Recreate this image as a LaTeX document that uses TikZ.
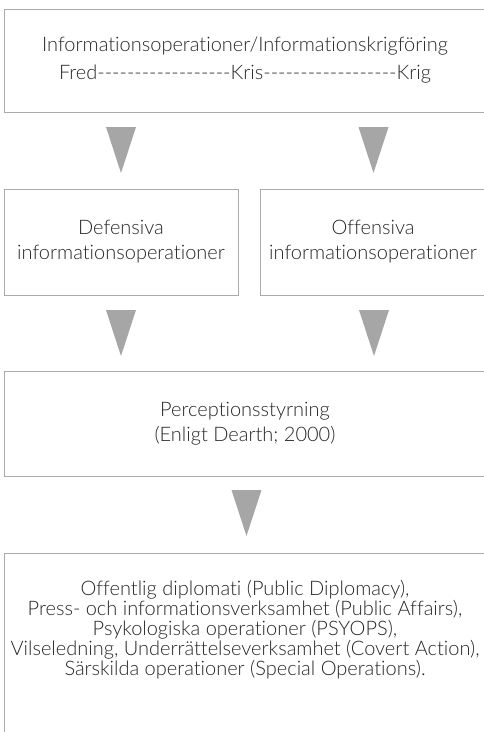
\documentclass[tikz,border=0pt]{standalone}
\usepackage{fontspec}
\IfFontExistsTF{Lato Light}{\setmainfont{Lato Light}[Ligatures={NoCommon}]}{\setmainfont{Lato}[Ligatures={NoCommon}]}
\definecolor{boxgray}{HTML}{ABABAB}
\definecolor{trigray}{HTML}{A6A6A6}
\definecolor{txtgray}{HTML}{262626}
\newcommand\dashrun[1]{\foreach \i in {1,...,#1}{-\kern0pt}}
\begin{document}
\begin{tikzpicture}[x=1pt,y=-1pt,
  box/.style={draw=boxgray, line width=1pt, inner sep=0pt, align=center, text=txtgray,
    font=\fontsize{20}{25}\selectfont},
  txt/.style={inner sep=0pt, align=center, text=txtgray, font=\fontsize{20}{20}\selectfont},
  tri/.style={fill=trigray}]
\useasboundingbox (0,0) rectangle (483,732);
\node[box, minimum width=482, minimum height=103, font=\fontsize{20}{28}\selectfont] (top) at (245,60.5)
  {Informationsoperationer/Informationskrigföring\\Fred\dashrun{18}Kris\dashrun{18}Krig};
\node[box, minimum width=234, minimum height=106] (def) at (121,242)
  {Defensiva\\informationsoperationer};
\node[box, minimum width=226, minimum height=106] (off) at (373,242)
  {Offensiva\\informationsoperationer};
\node[box, minimum width=482, minimum height=105] (perc) at (245,423.5)
  {Perceptionsstyrning\\(Enligt Dearth; 2000)};
\node[box, minimum width=482, minimum height=192] (list) at (245,649) {};
\node[txt] (listtext) at (245,630)
  {Offentlig diplomati (Public Diplomacy),\\
   Press- och informationsverksamhet (Public Affairs),\\
   Psykologiska operationer (PSYOPS),\\
   Vilseledning, Underrättelseverksamhet (Covert Action),\\
   Särskilda operationer (Special Operations).};
\coordinate (t1) at (121,127);
\coordinate (t2) at (373.5,127);
\coordinate (t3) at (121,310);
\coordinate (t4) at (374,310);
\coordinate (t5) at (246.5,490);
\foreach \t in {t1,t2,t3,t4,t5}
  \fill[tri] (\t) ++(-15,0) -- ++(30,0) -- ++(-15,46) -- cycle;
\end{tikzpicture}
\end{document}
